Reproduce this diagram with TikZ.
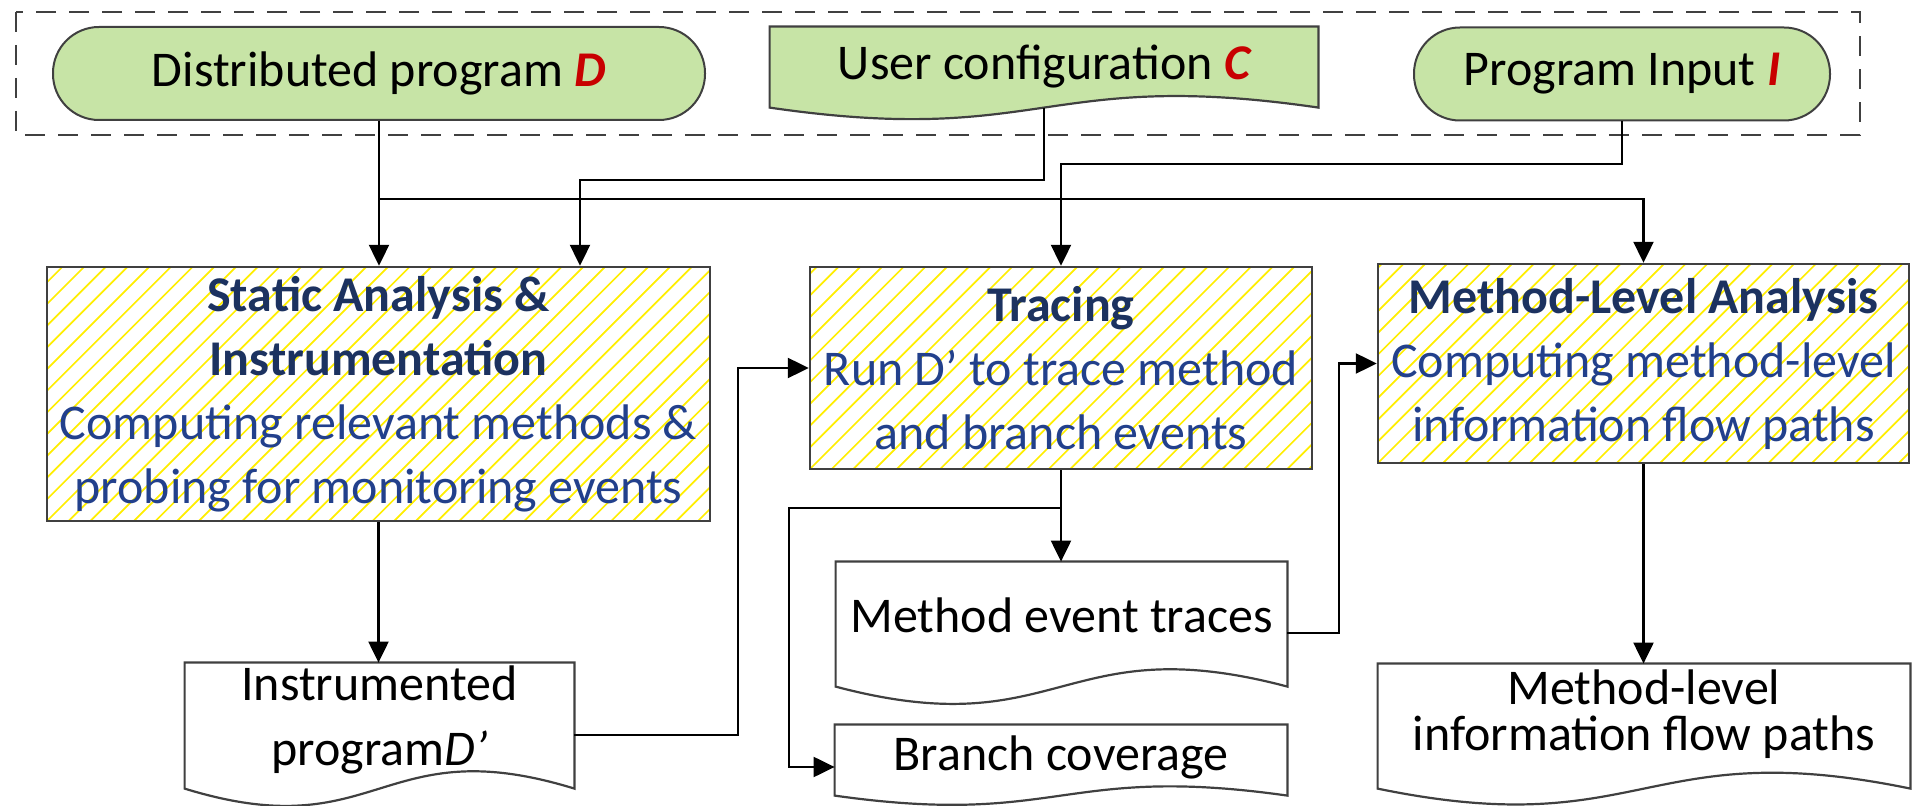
\documentclass[tikz,border=0pt]{standalone}
\usepackage{fontspec}
\setmainfont{Carlito}
\usetikzlibrary{arrows.meta,calc,backgrounds}

\definecolor{termfill}{RGB}{199,228,166}
\definecolor{keyred}{RGB}{200,0,0}
\definecolor{hatchyellow}{RGB}{255,238,0}
\definecolor{titleblue}{RGB}{28,50,96}
\definecolor{bodyblue}{RGB}{34,64,140}
\definecolor{edgegray}{RGB}{64,64,64}

% title line inside a process box
\newcommand\ttl[1]{\textcolor{titleblue}{\bfseries #1}}
% highlighted symbol in the input boxes
\newcommand\sym[1]{\textcolor{keyred}{\bfseries\itshape #1}}
% document outline (flat top, wavy bottom) around a text node
% #1 node name, #2 side length below the top edge, #3 wave depth, #4 fill colour
\newcommand\docoutline[4]{%
  \begin{scope}[on background layer]
    \draw[docline,fill=#4] (#1.north west) -- (#1.north east) -- ++(0,#2)
      .. controls ($(#1.north)+(0,{#2-#3})$) and ($(#1.north)+(0,{#2+#3})$) ..
      ($(#1.north west)+(0,#2)$) -- cycle;
  \end{scope}}

\begin{document}
\begin{tikzpicture}[x=0.5pt,y=-0.5pt,
  font=\fontsize{25pt}{32pt}\selectfont,
  terminal/.style={draw=edgegray, line width=1pt, fill=termfill,
    rounded corners=23pt, minimum height=46.5pt, inner sep=0pt},
  procbox/.style={draw=edgegray, line width=1.2pt, fill=white, align=center,
    inner sep=0pt, text=bodyblue,
    path picture={\foreach \i in {-14,...,32}{
      \draw[hatchyellow, line width=0.85pt]
        ([xshift=\i*10.85pt]path picture bounding box.south west) -- ++(140pt,140pt);}}},
  doctext/.style={align=center, inner sep=0pt},
  docline/.style={draw=edgegray, line width=1.1pt},
  frame/.style={draw=edgegray, line width=1.2pt, dash pattern=on 10pt off 6.5pt},
  arr/.style={draw=black, line width=1.1pt, -{Triangle[length=10.5pt,width=10pt]}}]

\useasboundingbox (0,0) rectangle (1913,806);

% inputs
\draw[frame] (16,12) rectangle (1860,135);
\node[terminal, minimum width=326pt] (D) at (379,73.5)
  {Distributed program \sym{D}};
\node[doctext, minimum width=274pt, minimum height=40pt] (C) at (1044,67)
  {User configuration \sym{C}};
\docoutline{C}{81}{40}{termfill}
\node[terminal, minimum width=208pt] (I) at (1622,74)
  {Program Input \sym{I}};

% processing steps
\node[procbox, minimum width=331.5pt, minimum height=127pt] (S) at (378.5,394)
  {\ttl{Static Analysis \&}\\\ttl{Instrumentation}\\Computing relevant methods \&\\probing for monitoring events};
\node[procbox, minimum width=251pt, minimum height=101pt] (T) at (1061,368)
  {\ttl{Tracing}\\Run D’ to trace method\\and branch events};
\node[procbox, minimum width=265.5pt, minimum height=99.5pt] (M) at (1643.5,363.5)
  {\ttl{Method-Level Analysis}\\Computing method-level\\information flow paths};

% produced artefacts
\node[doctext, minimum width=194.5pt, minimum height=57pt,
  font=\fontsize{25pt}{32.5pt}\selectfont] (Inst) at (379.5,720)
  {Instrumented\\program\textit{D’}};
\docoutline{Inst}{126}{60}{white}
\node[doctext, minimum width=225.5pt, minimum height=53pt] (MET) at (1061.5,615)
  {Method event traces};
\docoutline{MET}{125}{60}{white}
\node[doctext, minimum width=226pt, minimum height=32pt] (Br) at (1061,757)
  {Branch coverage};
\docoutline{Br}{71}{32}{white}
\node[doctext, minimum width=266pt, minimum height=50pt,
  font=\fontsize{25pt}{23pt}\selectfont] (MLFP) at (1644,714)
  {Method-level\\information flow paths};
\docoutline{MLFP}{125}{55}{white}

% connectors
\coordinate (Cb) at ($(C.north)+(0,81)$);
\draw[arr] (D.south) -- (D.south |- S.north);
\draw[arr] (D.south |- 0,199) -| (M.north);
\draw[arr] (Cb) |- (580,180) -- (S.north -| 580,0);
\draw[arr] (I.south) |- (T.north |- 0,164) -- (T.north);
\draw[arr] (S.south) -- (S.south |- Inst.north);
\draw[arr] (Inst.east |- 0,735) -| ($(T.west)+(-71,0)$) -- (T.west);
\draw[arr] (T.south) -- (T.south |- MET.north);
\draw[arr] (T.south |- 0,508) -| (789,767) -- (Br.west |- 0,767);
\draw[arr] (MET.east |- 0,633) -| ($(M.west)+(-38,0)$) -- (M.west);
\draw[arr] (M.south) -- (M.south |- MLFP.north);

\end{tikzpicture}
\end{document}
